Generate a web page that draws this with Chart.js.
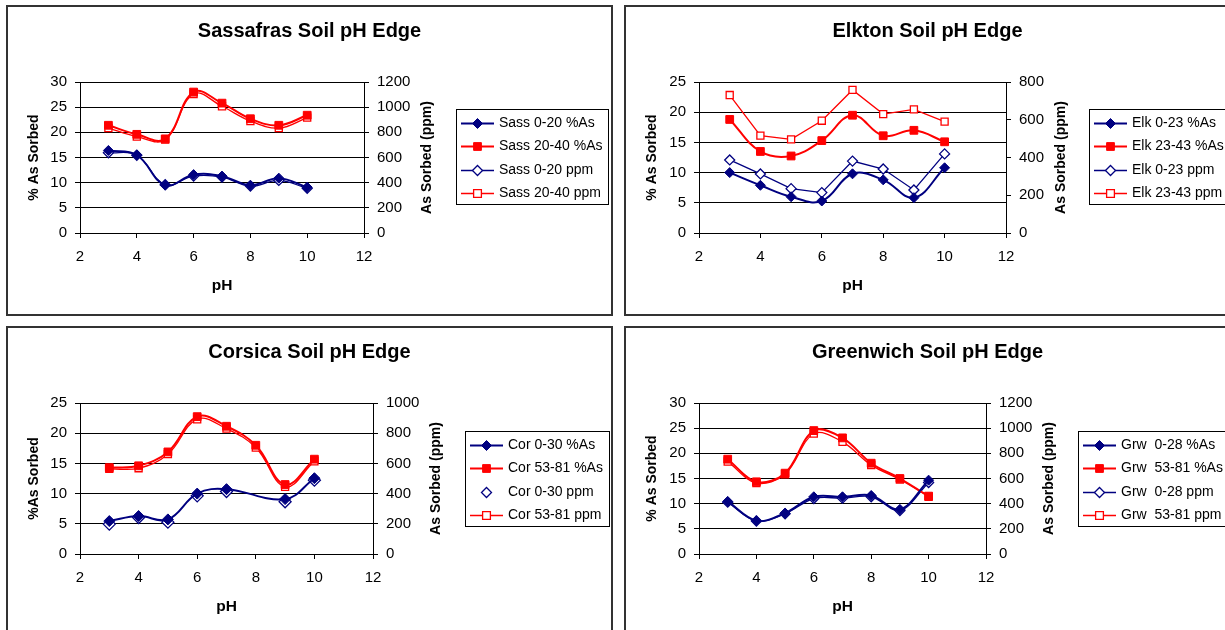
<!DOCTYPE html>
<html>
<head>
<meta charset="utf-8">
<title>Soil pH Edge</title>
<script src="https://cdn.jsdelivr.net/npm/chart.js@4.4.1/dist/chart.umd.min.js"></script>
<style>
  html, body { margin: 0; padding: 0; background: #fff; }
  body { width: 1225px; height: 630px; position: relative; overflow: hidden; }
  .panel { position: absolute; width: 607px; height: 311px; }
  .panel canvas { position: absolute; left: 0; top: 0; }
  .panel::after { content: ''; position: absolute; inset: 0; border: 2px solid #333; pointer-events: none; }
</style>
</head>
<body>
<div class="panel" style="left:6px;top:5px"><canvas id="sass" width="607" height="311"></canvas></div>
<div class="panel" style="left:624px;top:5px"><canvas id="elk" width="607" height="311"></canvas></div>
<div class="panel" style="left:6px;top:326px"><canvas id="cor" width="607" height="311"></canvas></div>
<div class="panel" style="left:624px;top:326px"><canvas id="grw" width="607" height="311"></canvas></div>
<script>
// pH values shared by every soil
const pH = [3, 4, 5, 6, 7, 8, 9, 10];
const xRange = [2, 12, 2];

// Sassafras
const sass020Pct = [16.4, 15.5, 9.5, 11.6, 11.3, 9.5, 10.9, 9.1];
const sass2040Pct = [21.4, 19.6, 18.7, 28.0, 25.8, 22.7, 21.4, 23.4];
const sass020Ppm = [638, 618, 384, 453, 445, 373, 418, 355];
const sass2040Ppm = [834, 766, 742, 1105, 1007, 890, 834, 917];

// Elkton
const elk023Pct = [10.0, 7.9, 6.0, 5.3, 9.8, 8.8, 5.85, 10.8];
const elk2343Pct = [18.8, 13.5, 12.75, 15.3, 19.5, 16.1, 17.0, 15.1];
const elk023Ppm = [387, 313, 235, 214, 381, 339, 228, 419];
const elk2343Ppm = [731, 516, 496, 595, 758, 630, 655, 590];

// Corsica (no 0-30 sample at pH 8)
const cor030Pct = [5.45, 6.28, 5.73, 10.0, 10.74, null, 9.09, 12.55];
const cor5381Pct = [14.3, 14.6, 16.9, 22.74, 21.15, 18.0, 11.5, 15.7];
const cor030Ppm = [198, 242, 211, 385, 414, null, 346, 489];
const cor5381Ppm = [564, 568, 661, 892, 830, 705, 445, 614];

// Greenwich
const grw028Pct = [10.44, 6.6, 8.13, 11.37, 11.37, 11.63, 8.86, 14.67];
const grw5381Pct = [18.84, 14.34, 16.06, 24.52, 23.07, 18.04, 15.0, 11.5];
const grw028Ppm = [412, 262, 320, 441, 444, 455, 346, 568];
const grw5381Ppm = [735, 563, 634, 957, 891, 706, 592, 455];

// axis ranges: [min, max, step]
const pctSassRange = [0, 30, 5], ppmSassRange = [0, 1200, 200];
const pctElkRange = [0, 25, 5], ppmElkRange = [0, 800, 200];
const pctCorRange = [0, 25, 5], ppmCorRange = [0, 1000, 200];
const pctGrwRange = [0, 30, 5], ppmGrwRange = [0, 1200, 200];

const NAVY = '#000080';
const RED = '#ff0000';
const FONT = '"Liberation Sans", Arial, sans-serif';
Chart.defaults.font.family = FONT;
Chart.defaults.color = '#000';

function toPoints(values) {
  return pH.map((x, i) => ({ x, y: values[i] })).filter(p => p.y !== null);
}

function pctLine(label, values, color, style, radius, tension) {
  return {
    label, yAxisID: 'y', data: toPoints(values),
    borderColor: color, borderWidth: 2,
    pointStyle: style, pointRadius: radius, pointHoverRadius: radius,
    pointBackgroundColor: color, pointBorderColor: color, pointBorderWidth: 1,
    tension, spanGaps: true, fill: false
  };
}

function ppmLine(label, values, color, style, radius, tension, showLine = true) {
  return {
    label, yAxisID: 'y2', data: toPoints(values),
    borderColor: color, borderWidth: 1.3,
    pointStyle: style, pointRadius: radius, pointHoverRadius: radius,
    pointBackgroundColor: '#fff', pointBorderColor: color, pointBorderWidth: 1.3,
    tension, showLine, spanGaps: true, fill: false
  };
}

// boxed legend: line sample with the marker in its middle
const boxLegend = {
  id: 'boxLegend',
  afterDraw(chart, args, opts) {
    const { ctx } = chart;
    const sets = chart.data.datasets;
    ctx.save();
    ctx.font = '14px ' + FONT;
    const textW = Math.max(...sets.map(d => ctx.measureText(d.label).width));
    const w = Math.round(43 + textW + 6);
    const h = 95;
    const x0 = opts.x, y0 = opts.y;
    ctx.fillStyle = '#fff';
    ctx.fillRect(x0, y0, w, h);
    ctx.strokeStyle = '#000';
    ctx.lineWidth = 1;
    ctx.strokeRect(x0 + 0.5, y0 + 0.5, w, h);
    sets.forEach((d, i) => {
      const y = Math.round(y0 + 13.5 + i * 23.6) + 0.5;
      if (d.showLine !== false) {
        ctx.strokeStyle = d.borderColor;
        ctx.lineWidth = d.borderWidth;
        ctx.beginPath();
        ctx.moveTo(x0 + 5, y);
        ctx.lineTo(x0 + 38, y);
        ctx.stroke();
      }
      ctx.fillStyle = d.pointBackgroundColor;
      ctx.strokeStyle = d.pointBorderColor;
      ctx.lineWidth = d.pointBorderWidth;
      Chart.helpers.drawPoint(ctx, {
        pointStyle: d.pointStyle,
        radius: d.pointStyle === 'rect' ? 5.5 : 5,
        borderWidth: d.pointBorderWidth,
        rotation: 0
      }, x0 + 21.5, y);
      ctx.fillStyle = '#000';
      ctx.textBaseline = 'middle';
      ctx.textAlign = 'left';
      ctx.fillText(d.label, x0 + 43, y);
    });
    ctx.restore();
  }
};

// secondary axis title, reading bottom to top
const rightAxisTitle = {
  id: 'rightAxisTitle',
  afterDraw(chart, args, opts) {
    const s = chart.scales.y2;
    const { ctx, chartArea } = chart;
    ctx.save();
    ctx.font = '15px ' + FONT;
    const widest = Math.max(...s.ticks.map(t => ctx.measureText(String(t.label)).width));
    const x = s.left + 13 + widest + 8.5 + 8.4;
    ctx.translate(x, (chartArea.top + chartArea.bottom) / 2);
    ctx.rotate(-Math.PI / 2);
    ctx.font = 'bold 14px ' + FONT;
    ctx.fillStyle = '#000';
    ctx.textAlign = 'center';
    ctx.textBaseline = 'middle';
    ctx.fillText(opts.text, 0, 0);
    ctx.restore();
  }
};

function makeChart(p) {
  const tickFont = { size: 15 };
  new Chart(document.getElementById(p.id), {
    type: 'line',
    data: { datasets: p.datasets },
    plugins: [boxLegend, rightAxisTitle],
    options: {
      responsive: false,
      animation: false,
      events: [],
      layout: { padding: 0 },
      plugins: {
        legend: { display: false },
        tooltip: { enabled: false },
        title: {
          display: true, text: p.title, color: '#000',
          font: { size: 20, weight: 'bold' },
          padding: { top: 14, bottom: 39 }
        },
        boxLegend: { x: p.legendX, y: p.legendY },
        rightAxisTitle: { text: 'As Sorbed (ppm)' }
      },
      scales: {
        x: {
          type: 'linear', min: xRange[0], max: xRange[1],
          ticks: { stepSize: xRange[2], padding: 10, font: tickFont, callback: v => v },
          grid: { drawOnChartArea: false, color: '#000', tickLength: 5 },
          border: { color: '#000' },
          title: { display: true, text: 'pH', font: { size: 15.5, weight: 'bold' }, padding: { top: 0, bottom: 20.7 } },
          afterFit: s => { s.height = 83; }
        },
        y: {
          position: 'left', min: p.pct[0], max: p.pct[1],
          ticks: { stepSize: p.pct[2], padding: 8, font: tickFont, callback: v => v },
          grid: { color: '#000', tickLength: 5 },
          border: { color: '#000' },
          title: { display: true, text: p.yTitle, font: { size: 14, weight: 'bold' }, padding: { top: 19.6, bottom: 0 } },
          afterFit: s => { s.width = p.plotLeft; }
        },
        y2: {
          position: 'right', min: p.ppm[0], max: p.ppm[1],
          ticks: { stepSize: p.ppm[2], padding: 8, font: tickFont, callback: v => v },
          grid: { drawOnChartArea: false, color: '#000', tickLength: 5 },
          border: { color: '#000' },
          afterFit: s => { s.width = 607 - p.plotRight; }
        }
      }
    }
  });
}

makeChart({
  id: 'sass', title: 'Sassafras Soil pH Edge', yTitle: '% As Sorbed',
  pct: pctSassRange, ppm: ppmSassRange,
  plotLeft: 74, plotRight: 358, legendX: 450, legendY: 104,
  datasets: [
    pctLine('Sass 0-20 %As', sass020Pct, NAVY, 'rectRot', 5, 0.4),
    pctLine('Sass 20-40 %As', sass2040Pct, RED, 'rect', 5.5, 0.4),
    ppmLine('Sass 0-20 ppm', sass020Ppm, NAVY, 'rectRot', 5, 0.4),
    ppmLine('Sass 20-40 ppm', sass2040Ppm, RED, 'rect', 5, 0.4)
  ]
});

makeChart({
  id: 'elk', title: 'Elkton Soil pH Edge', yTitle: '% As Sorbed',
  pct: pctElkRange, ppm: ppmElkRange,
  plotLeft: 75, plotRight: 382, legendX: 465, legendY: 104,
  datasets: [
    pctLine('Elk 0-23 %As', elk023Pct, NAVY, 'rectRot', 5, 0.4),
    pctLine('Elk 23-43 %As', elk2343Pct, RED, 'rect', 5.5, 0.4),
    ppmLine('Elk 0-23 ppm', elk023Ppm, NAVY, 'rectRot', 5, 0),
    ppmLine('Elk 23-43 ppm', elk2343Ppm, RED, 'rect', 5, 0)
  ]
});

makeChart({
  id: 'cor', title: 'Corsica Soil pH Edge', yTitle: '%As Sorbed',
  pct: pctCorRange, ppm: ppmCorRange,
  plotLeft: 74, plotRight: 367, legendX: 459, legendY: 105,
  datasets: [
    pctLine('Cor 0-30 %As', cor030Pct, NAVY, 'rectRot', 5.5, 0.4),
    pctLine('Cor 53-81 %As', cor5381Pct, RED, 'rect', 5.5, 0.4),
    ppmLine('Cor 0-30 ppm', cor030Ppm, NAVY, 'rectRot', 6, 0.4, false),
    ppmLine('Cor 53-81 ppm', cor5381Ppm, RED, 'rect', 5, 0.4)
  ]
});

makeChart({
  id: 'grw', title: 'Greenwich Soil pH Edge', yTitle: '% As Sorbed',
  pct: pctGrwRange, ppm: ppmGrwRange,
  plotLeft: 75, plotRight: 362, legendX: 454, legendY: 105,
  datasets: [
    pctLine('Grw  0-28 %As', grw028Pct, NAVY, 'rectRot', 5, 0.35),
    pctLine('Grw  53-81 %As', grw5381Pct, RED, 'rect', 5.5, 0.35),
    ppmLine('Grw  0-28 ppm', grw028Ppm, NAVY, 'rectRot', 5, 0.35),
    ppmLine('Grw  53-81 ppm', grw5381Ppm, RED, 'rect', 5, 0.35)
  ]
});
</script>
</body>
</html>
